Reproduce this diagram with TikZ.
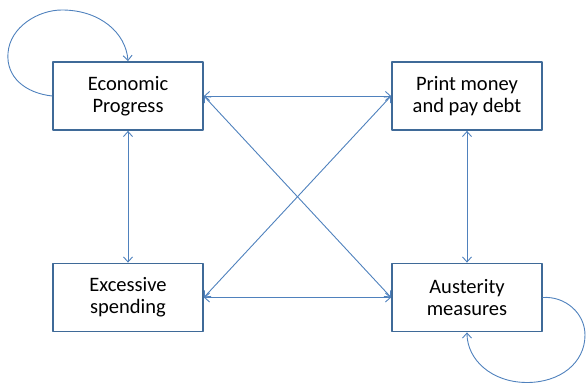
\documentclass[tikz,border=0pt]{standalone}
\usepackage{fontspec}
\setmainfont{Carlito}
\usetikzlibrary{arrows.meta}
\definecolor{boxline}{HTML}{3F6A98}
\definecolor{arrowline}{HTML}{4F81BD}

\begin{document}
\begin{tikzpicture}[x=1pt,y=1pt,line cap=round,line join=round,
  box/.style={draw=boxline,line width=1.8pt,fill=white,minimum width=150pt,minimum height=68pt,align=center,inner sep=0pt,font=\fontsize{20.5}{22}\selectfont},
  link/.style={draw=arrowline,line width=0.9pt,{Straight Barb[length=5pt,width=9pt]}-{Straight Barb[length=5pt,width=9pt]}},
  selfloop/.style={draw=arrowline,line width=0.9pt,-{Straight Barb[length=5pt,width=9pt]}}]
\useasboundingbox (0,0) rectangle (587,385);
% the four boxes
\node[box] (ep) at (128,289) {Economic\\Progress};
\node[box] (pm) at (467,289) {Print money\\and pay debt};
\node[box] (es) at (128,87.5) {Excessive\\spending};
\node[box] (am) at (467,87.5) {Austerity\\measures};
% links between boxes
\draw[link] (ep.east) -- (pm.west);
\draw[link] (es.east) -- (am.west);
\draw[link] (ep.east) -- (am.west);
\draw[link] (es.east) -- (pm.west);
\draw[link] (ep.south) -- (es.north);
\draw[link] (pm.south) -- (am.north);
% self loops
\coordinate (epleft) at (8,332);
\coordinate (eptop) at (62,375);
\coordinate (amright) at (585,50);
\coordinate (amlow) at (527,2.5);
\draw[selfloop] (ep.west) .. controls (25,292) and (6,308) .. (epleft) .. controls (10,358) and (38,375) .. (eptop) .. controls (100,375) and (126,352) .. (ep.north);
\draw[selfloop] (am.east) .. controls (565,89) and (585,72) .. (amright) .. controls (585,22) and (560,2.5) .. (amlow) .. controls (492,2.5) and (467,25) .. (am.south);
\end{tikzpicture}
\end{document}
